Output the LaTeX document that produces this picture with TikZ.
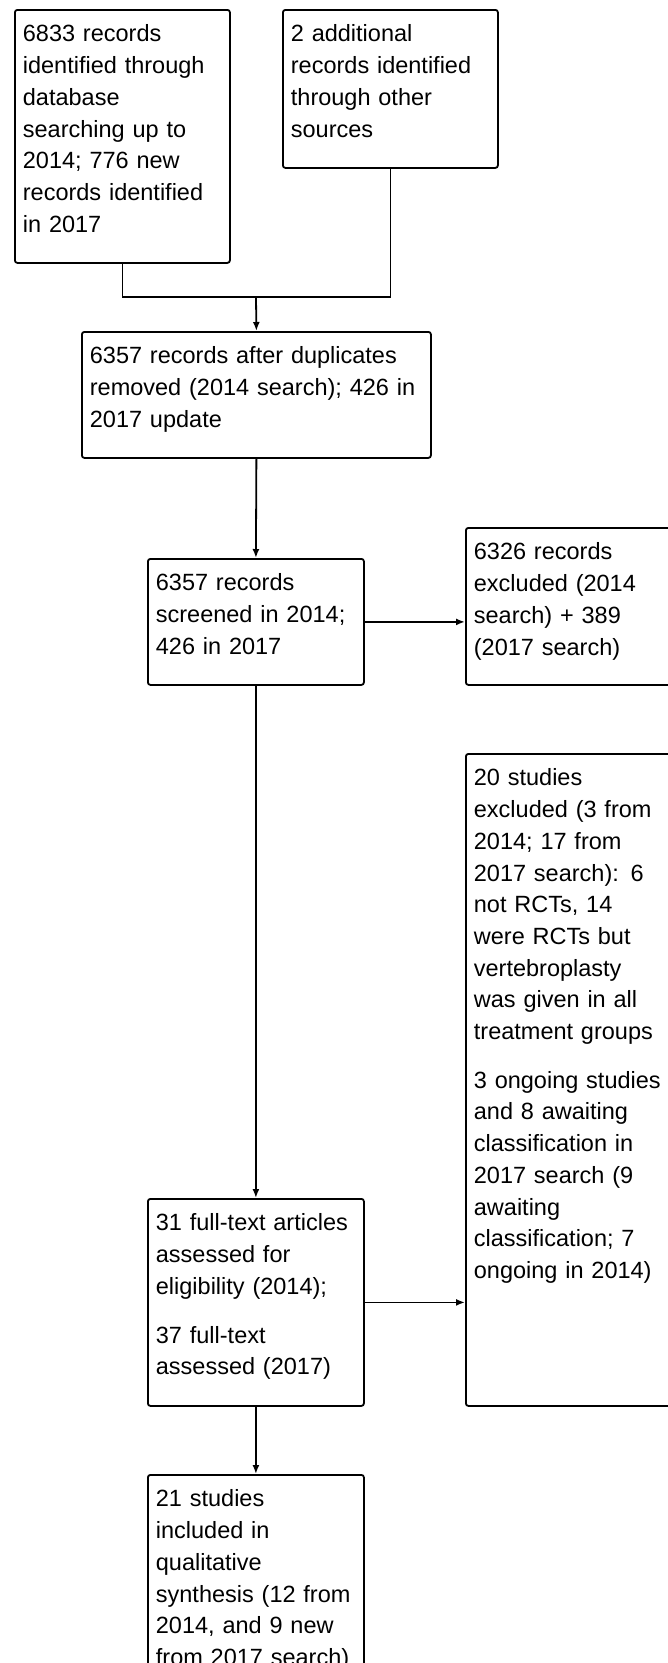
\documentclass[tikz,border=0pt]{standalone}
\usepackage{fontspec}
\setmainfont{Liberation Sans}
\usetikzlibrary{arrows.meta}
\newcommand{\boxcolor}{black}
\newcommand{\thickness}{1.8pt}
\newcommand{\gap}{17pt}

\begin{document}
\begin{tikzpicture}[x=1pt,y=-1pt,
  flowbox/.style={draw=\boxcolor, line width=\thickness, rounded corners=2.5pt,
    anchor=north west, inner xsep=8pt, inner ysep=0pt, align=left,
    text height=32pt, font=\fontsize{23.5}{31.7}\selectfont},
  flowarrow/.style={draw=\boxcolor, line width=\thickness, -{Latex[length=9pt,width=7pt]}}]
\useasboundingbox (0,0) rectangle (668,1663);
\clip (0,0) rectangle (668,1663);
% identification
\node[flowbox, text width=199pt, text depth=221pt] (rec) at (14,9)
  {6833 records\\identified through\\database\\searching up to\\2014; 776 new\\records identified\\in 2017};
\node[flowbox, text width=199pt, text depth=126pt] (oth) at (282,9)
  {2 additional\\records identified\\through other\\sources};
\coordinate (join) at (256,297);
% screening
\node[flowbox, text width=333pt, text depth=94pt] (dup) at (81,331)
  {6357 records after duplicates\\removed (2014 search); 426 in\\2017 update};
\node[flowbox, text width=200pt, text depth=94pt] (scr) at (147,558)
  {6357 records\\screened in 2014;\\426 in 2017};
\node[flowbox, text width=200pt, text depth=125pt] (exc) at (465,527)
  {6326 records\\excluded (2014\\search) + 389\\(2017 search)};
% eligibility
\node[flowbox, text width=200pt, text depth=175pt] (full) at (147,1198)
  {31 full-text articles\\assessed for\\eligibility (2014);\\[\gap]37 full-text\\assessed (2017)};
\node[flowbox, text width=200pt, text depth=620pt] (excl) at (465,753)
  {20 studies\\excluded (3 from\\2014; 17 from\\2017 search): 6\\not RCTs, 14\\were RCTs but\\vertebroplasty\\was given in all\\treatment groups\\[\gap]3 ongoing studies\\and 8 awaiting\\classification in\\2017 search (9\\awaiting\\classification; 7\\ongoing in 2014)};
% included
\node[flowbox, text width=200pt, text depth=231pt] (incl) at (147,1474)
  {21 studies\\included in\\qualitative\\synthesis (12 from\\2014, and 9 new\\from 2017 search)};
% connectors
\draw[draw=\boxcolor, line width=\thickness] (rec.south) |- (join) -| (oth.south);
\draw[flowarrow] (join) -- (dup.north);
\draw[flowarrow] (dup.south) -- (scr.north);
\draw[flowarrow] (scr.east) -- (scr.east -| exc.west);
\draw[flowarrow] (scr.south) -- (full.north);
\draw[flowarrow] (full.east) -- (full.east -| excl.west);
\draw[flowarrow] (full.south) -- (incl.north);
\end{tikzpicture}
\end{document}
